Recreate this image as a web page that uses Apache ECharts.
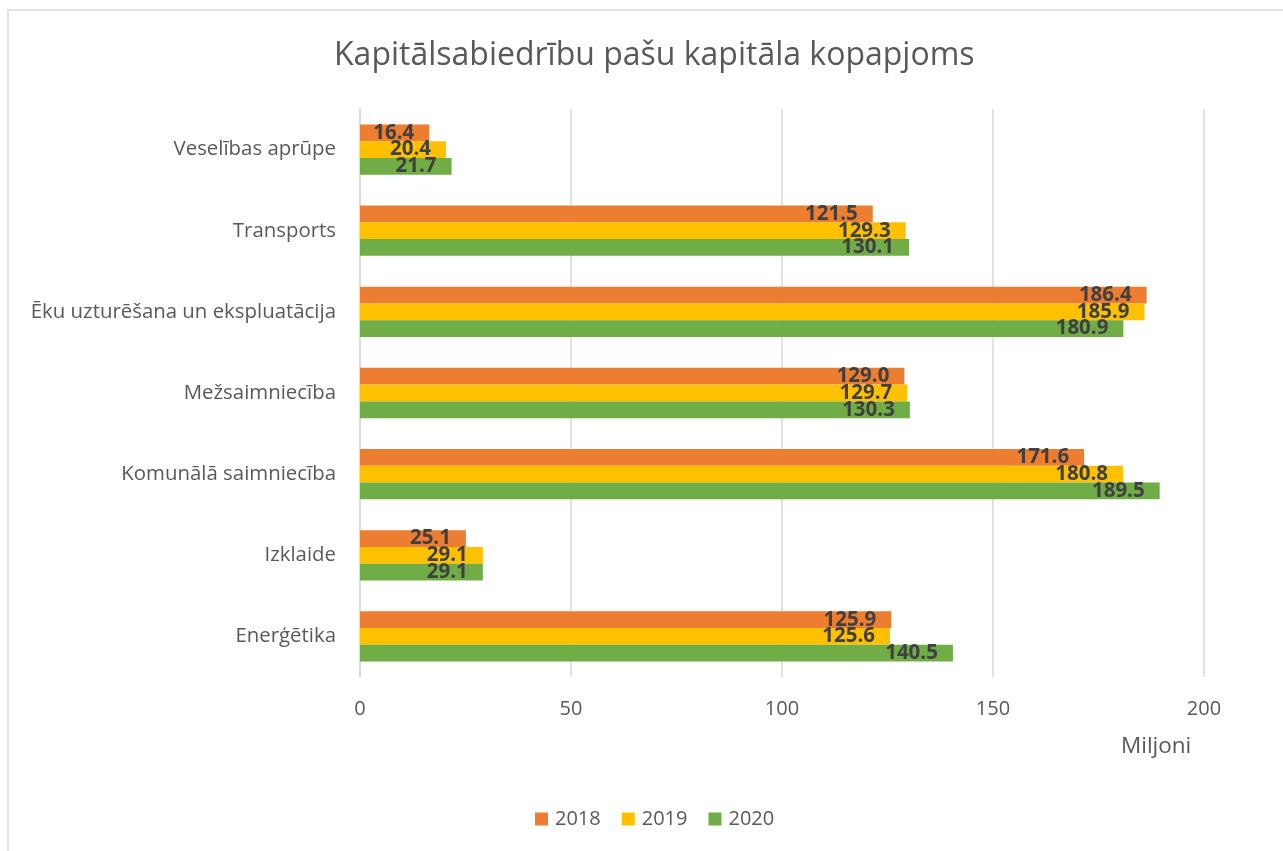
<!DOCTYPE html>
<html>
<head>
<meta charset="utf-8">
<script src="https://cdn.jsdelivr.net/npm/echarts@6/dist/echarts.min.js"></script>
<style>
  html, body { margin: 0; padding: 0; background: #fff; }
  #chart { width: 1283px; height: 851px; }
</style>
</head>
<body>
<div id="chart"></div>
<script>
// kategorijas no apakšas uz augšu
var categories = ['Enerģētika', 'Izklaide', 'Komunālā saimniecība', 'Mežsaimniecība',
  'Ēku uzturēšana un ekspluatācija', 'Transports', 'Veselības aprūpe'];
var years = ['2018', '2019', '2020'];
var values2018 = [125.9, 25.1, 171.6, 129.0, 186.4, 121.5, 16.4];
var values2019 = [125.6, 29.1, 180.8, 129.7, 185.9, 129.3, 20.4];
var values2020 = [140.5, 29.1, 189.5, 130.3, 180.9, 130.1, 21.7];
var xTicks = [0, 50, 100, 150, 200];

var colors = ['#ED7D31', '#FFC000', '#70AD47'];
var font = 'Open Sans, Noto Sans, sans-serif';

function barSeries(name, data, color) {
  return {
    name: name,
    type: 'bar',
    data: data,
    barGap: '0%',
    barCategoryGap: '38%',
    itemStyle: { color: color },
    label: {
      show: true,
      position: 'insideRight',
      distance: 15,
      formatter: function (p) { return p.value.toFixed(1); },
      color: '#404040',
      fontWeight: 'bold',
      fontSize: 20.5,
      fontFamily: font
    }
  };
}

var myChart = echarts.init(document.getElementById('chart'));
var option = {
  animation: false,
  color: colors,
  title: {
    text: 'Kapitālsabiedrību pašu kapitāla kopapjoms',
    left: 329,
    top: 35,
    textStyle: { color: '#595959', fontSize: 32, fontWeight: 'normal', fontFamily: font }
  },
  legend: {
    top: 804,
    left: 530,
    itemWidth: 13,
    itemHeight: 13,
    itemGap: 21,
    icon: 'rect',
    data: years,
    textStyle: { color: '#595959', fontSize: 20, fontFamily: font, padding: [0, 0, 0, 2] }
  },
  grid: { left: 360, right: 79, top: 109, bottom: 174, containLabel: false },
  xAxis: {
    type: 'value',
    min: xTicks[0],
    max: xTicks[xTicks.length - 1],
    interval: 50,
    axisLine: { show: false },
    axisTick: { show: false },
    splitLine: { lineStyle: { color: '#d9d9d9', width: 1.5 } },
    axisLabel: { color: '#595959', fontSize: 20, fontFamily: font, margin: 22 }
  },
  yAxis: {
    type: 'category',
    data: categories,
    axisLine: { lineStyle: { color: '#d9d9d9', width: 1.5 } },
    axisTick: { show: false },
    axisLabel: { color: '#595959', fontSize: 20.4, fontFamily: font, margin: 24 }
  },
  graphic: [
    {
      type: 'rect',
      shape: { x: 8, y: 10, width: 1290, height: 850 },
      style: { fill: 'none', stroke: '#d9d9d9', lineWidth: 1.5 },
      silent: true
    },
    {
      type: 'text',
      left: 1121,
      top: 735,
      style: { text: 'Miljoni', fill: '#595959', fontSize: 22.5, fontFamily: font }
    }
  ],
  series: [
    barSeries(years[0], values2018, colors[0]),
    barSeries(years[1], values2019, colors[1]),
    barSeries(years[2], values2020, colors[2])
  ]
};
myChart.setOption(option);
window.onresize = myChart.resize;
</script>
</body>
</html>
